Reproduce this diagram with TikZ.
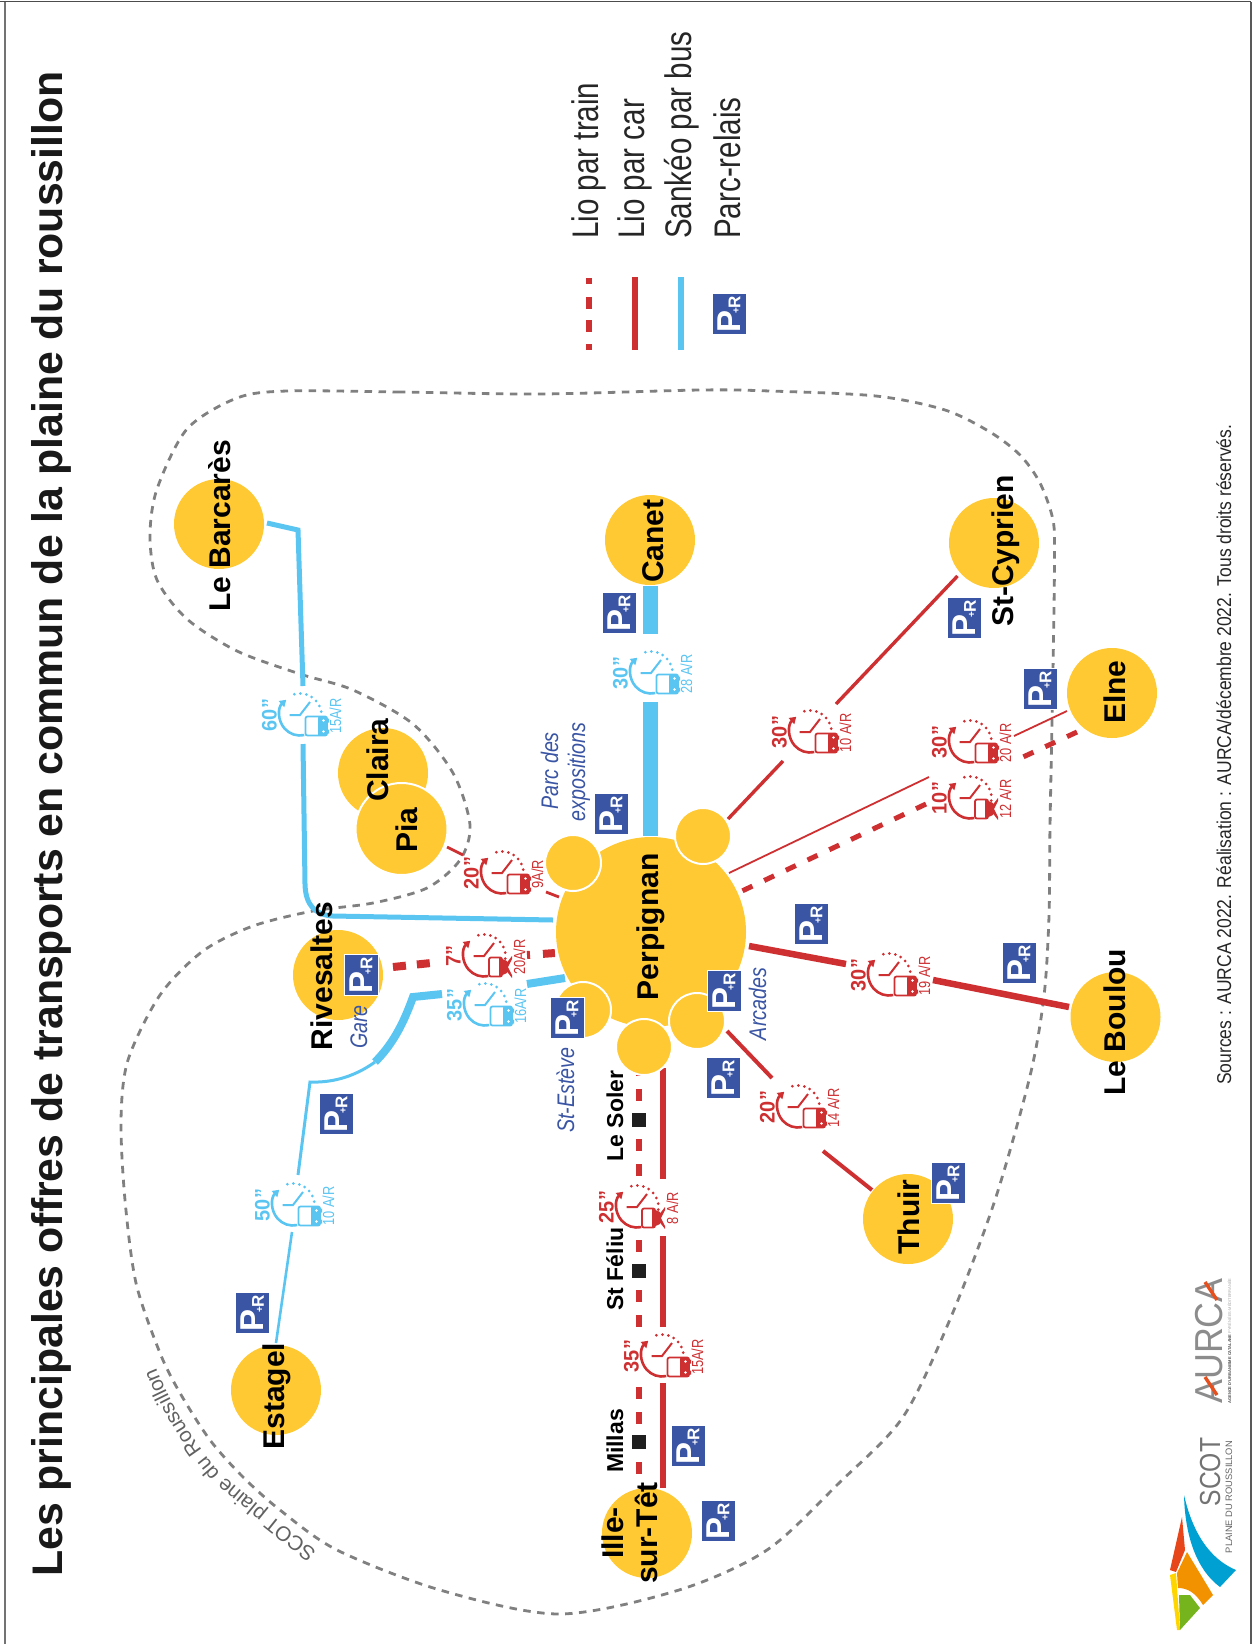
\documentclass[tikz,border=0pt]{standalone}
\usepackage{fontspec}
\usepackage{graphicx}
\setmainfont{Liberation Sans}
\usetikzlibrary{arrows.meta,decorations.text}
\definecolor{townY}{HTML}{FFC933}
\definecolor{lineR}{HTML}{CE3032}
\definecolor{lineB}{HTML}{5BC5F2}
\definecolor{signB}{HTML}{3A55A4}
\definecolor{frontierG}{HTML}{808080}
\newcommand{\pxs}[1]{\fontsize{#1}{#1}\selectfont}
\tikzset{
 x=1pt,y=-1pt,
 town/.style={circle,fill=townY,minimum size=90pt,inner sep=0pt},
 hub/.style={circle,fill=townY,minimum size=190pt,inner sep=0pt},
 minihub/.style={circle,fill=townY,draw=white,line width=2pt,minimum size=56pt,inner sep=0pt},
 townlabel/.style={rotate=90,anchor=base,inner sep=0pt,text=black,font=\bfseries\pxs{30}},
 stoplabel/.style={rotate=90,anchor=base,inner sep=0pt,text=black,font=\bfseries\pxs{23}},
 hublabel/.style={rotate=90,anchor=base,inner sep=0pt,text=signB,font=\itshape\pxs{24}},
 legendlabel/.style={rotate=90,anchor=base west,inner sep=0pt,text=black!85,font=\pxs{37}},
 prbox/.style={rotate=90,rectangle,fill=signB,draw=white,line width=0.9pt,minimum width=41pt,minimum height=34pt,inner sep=0pt,text=white,font=\bfseries},
 stopmark/.style={rectangle,fill=black!88,minimum size=14pt,inner sep=0pt},
 frontier/.style={draw=frontierG,line width=2.8pt,dash pattern=on 7.5pt off 6.5pt},
 car/.style={draw=lineR,line cap=butt},
 bus/.style={draw=lineB,line cap=butt},
 train/.style={draw=lineR,line cap=butt,dash pattern=on 12pt off 13pt},
}
\newcommand{\prsign}[3]{\node[prbox] (#1) at (#2,#3) {\pxs{33}P\kern-3pt\raisebox{1pt}{\pxs{10}+}\kern-1pt\pxs{17}R};}
% #1 name, #2 x, #3 y, #4 colour, #5 time, #6 frequency, #7 1=bus 0=train
\newcommand{\clockicon}[7]{%
 \coordinate (#1) at (#2,#3);
 \begin{scope}[shift={(#2,#3)}]
  \draw[#4,line width=2.6pt,{Triangle[length=6.5pt,width=8pt]}-] (132:20.5pt) arc[start angle=132,end angle=282,radius=20.5pt];
  \draw[#4,line width=3pt,line cap=round,dash pattern=on 0pt off 6pt] (105:21.5pt) arc[start angle=105,end angle=-18,radius=21.5pt];
  \draw[#4,line width=2pt] (-10.5,0) -- (0,0) -- (10,-13);
  \ifnum#7=1
   \draw[#4,fill=white,line width=1.8pt,rounded corners=2pt] (5.5,1.5) rectangle (27,20.5);
   \fill[#4,rounded corners=1pt] (18,1.5) rectangle (27,20.5);
   \fill[#4] (27,3.5) rectangle (29,7.5) (27,14.5) rectangle (29,18.5);
   \fill[white] (23.5,5.5) circle[radius=1.3pt] (23.5,16.5) circle[radius=1.3pt];
  \else
   \draw[#4,fill=white,line width=1.8pt,rounded corners=2pt] (5,1.5) rectangle (18,20.5);
   \fill[#4] (15,1.5) -- (23,5) -- (23,17) -- (15,20.5) -- cycle;
   \fill[#4] (21,9) -- (28,0) -- (28,3) -- (24,11) -- (28,19) -- (28,22) -- (21,13) -- cycle;
  \fi
  \node[rotate=90,anchor=base,inner sep=0pt,text=#4,font=\bfseries\pxs{21}] (#1t) at (-23.5,0) {\scalebox{.95}[1]{#5”}};
  \node[rotate=90,anchor=base,inner sep=0pt,text=#4,font=\pxs{16}] (#1f) at (41,1) {\scalebox{.8}[1]{#6}};
 \end{scope}}
\begin{document}
\begin{tikzpicture}
\useasboundingbox (0,0) rectangle (1253,1644);
% page edge
\draw[black!70,line width=1.5pt] (0,1.5) -- (1251,1.5);
\draw[black!55,line width=1.5pt] (5,1.5) -- (5,1644);
\draw[black!65,line width=1.6pt] (1251,1.5) -- (1251,1644);
% title
\node[rotate=90,anchor=base west,inner sep=0pt,font=\bfseries\pxs{42.8},text=black!90] (title) at (62,1577) {Les principales offres de transports en commun de la plaine du roussillon};
% SCOT perimeter
\draw[frontier] plot[smooth cycle,tension=.5] coordinates {(540,394)(400,392)(287,391)(237,398)(187,429)(157,489)(150,536)(157,580)(187,619)(237,651)(300,674)(353,690)(413,724)(453,773)(470,825)(460,860)(427,888)(373,903)(313,911)(253,926)(203,951)(160,995)(128,1060)(121,1120)(125,1200)(136,1283)(160,1353)(180,1393)(210,1440)(243,1477)(280,1510)(337,1550)(440,1590)(559,1614)(679,1590)(767,1550)(839,1483)(903,1417)(951,1317)(995,1200)(1030,1076)(1044,996)(1049,916)(1050,826)(1053,670)(1054.5,559)(1053,520)(1040,483)(1020,455)(990,432)(945,410)(876,396)(770,391)(700,390)};
\path[decorate,decoration={text along path,text={|\pxs{20.7}\color{black!62}|SCOT plaine du Roussillon},text align={left}}] (317,1551) .. controls (280,1523) and (240,1490) .. (220,1473) .. controls (195,1445) and (170,1405) .. (153,1360);
% coordinates for connector ends
\coordinate (pA) at (447,847); \coordinate (pB) at (463,855); \coordinate (pC) at (546,892); \coordinate (pD) at (559,897);
\coordinate (rA) at (393,967); \coordinate (rB) at (431,963); \coordinate (rC) at (527,955); \coordinate (rD) at (555,953);
\coordinate (sA) at (527,984); \coordinate (sB) at (565,978); \coordinate (sC) at (442,994); \coordinate (sD) at (413,997); \coordinate (sE) at (375,1062); \coordinate (sF) at (310,1082); \coordinate (sG) at (298,1175); \coordinate (sH) at (292,1232); \coordinate (sI) at (276,1343);
\coordinate (bA) at (267,523); \coordinate (bB) at (298,530); \coordinate (bC) at (303,686); \coordinate (bD) at (303,744); \coordinate (bE) at (305,884); \coordinate (bF) at (333,916); \coordinate (bG) at (553,920);
\coordinate (cA) at (650,586); \coordinate (cB) at (650,634); \coordinate (cC) at (650,702); \coordinate (cD) at (650,836);
\coordinate (yA) at (957.5,576); \coordinate (yB) at (836,704); \coordinate (yC) at (783,761); \coordinate (yD) at (728,819);
\coordinate (eA) at (1067,711); \coordinate (eB) at (1014,736); \coordinate (eC) at (929,777); \coordinate (eD) at (729,873);
\coordinate (fA) at (1077,732); \coordinate (fB) at (1023,757); \coordinate (fC) at (926,804); \coordinate (fD) at (742,891);
\coordinate (lA) at (749,946); \coordinate (lB) at (846,964); \coordinate (lC) at (933,980); \coordinate (lD) at (1069,1007);
\coordinate (tA) at (727,1031); \coordinate (tB) at (772,1078); \coordinate (tC) at (823,1151); \coordinate (tD) at (872,1190);
\coordinate (iA) at (663,1068); \coordinate (iB) at (663,1179); \coordinate (iC) at (663,1236); \coordinate (iD) at (663,1327); \coordinate (iE) at (663,1383); \coordinate (iF) at (663,1488);
\coordinate (jA) at (639,1064); \coordinate (jB) at (639,1177); \coordinate (jC) at (639,1240); \coordinate (jD) at (639,1327); \coordinate (jE) at (639,1387); \coordinate (jF) at (639,1474);
% connectors
\draw[bus,line width=5pt,line join=miter] (bA) -- (bB) -- (bC);
\draw[bus,line width=5pt] (bD) -- (bE) .. controls (305.5,905) and (315,915) .. (bF) -- (bG);
\draw[bus,line width=15pt] (cA) -- (cB) (cC) -- (cD);
\draw[bus,line width=8pt] (sA) -- (sB);
\draw[bus,line width=8pt] (sC) -- (sD) .. controls (403,1025) and (392,1045) .. (sE);
\draw[bus,line width=3pt] (sE) .. controls (357,1075) and (335,1083) .. (sF) -- (sG);
\draw[bus,line width=2.6pt] (sH) -- (sI);
\draw[car,line width=2.8pt] (pA) -- (pB) (pC) -- (pD);
\draw[train,line width=8pt,dash pattern=on 13pt off 11pt] (rA) -- (rB);
\draw[train,line width=8pt,dash pattern=on 3pt off 13pt on 12pt off 20pt] (rC) -- (rD);
\draw[car,line width=3.4pt] (yA) -- (yB) (yC) -- (yD);
\draw[car,line width=1.8pt] (eA) -- (eB) (eC) -- (eD);
\draw[train,line width=5pt,dash pattern=on 11pt off 13pt] (fA) -- (fB);
\draw[train,line width=5pt,dash pattern=on 11pt off 13pt] (fC) -- (fD);
\draw[car,line width=6.5pt] (lA) -- (lB) (lC) -- (lD);
\draw[car,line width=4pt] (tA) -- (tB) (tC) -- (tD);
\draw[car,line width=6.5pt] (iA) -- (iB) (iC) -- (iD) (iE) -- (iF);
\draw[train,line width=6pt] (jA) -- (jB);
\draw[train,line width=6pt] (jC) -- (jD);
\draw[train,line width=6pt] (jE) -- (jF);
% stations
\node[stopmark] (mSoler) at (639,1120) {};
\node[stopmark] (mFeliu) at (639,1271) {};
\node[stopmark] (mMillas) at (639,1442) {};
% towns
\node[town] (barcares) at (219,524) {};
\node[town] (canet) at (650,540) {};
\node[town] (cyprien) at (994,543) {};
\node[town] (elne) at (1112,693) {};
\node[town] (claira) at (383,773) {};
\node[town,draw=white,line width=2pt,minimum size=92pt] (pia) at (401.5,829) {};
\node[town] (rivesaltes) at (338,975) {};
\node[town] (boulou) at (1115.5,1017) {};
\node[town] (thuir) at (908,1219) {};
\node[town] (estagel) at (276,1390) {};
\node[town] (ille) at (647,1533) {};
\node[hub] (perpignan) at (651,932) {};
\node[minihub] (hubParc) at (573,863) {};
\node[minihub] (hubNE) at (703,836) {};
\node[minihub] (hubEsteve) at (583,1010) {};
\node[minihub] (hubSud) at (644,1047) {};
\node[minihub] (hubArcades) at (697,1021) {};
% town labels
\node[townlabel] (lBarcares) at (230,526) {Le Barcarès};
\node[townlabel] (lCanet) at (663,541) {Canet};
\node[townlabel] (lCyprien) at (1013,551) {St-Cyprien};
\node[townlabel] (lElne) at (1125,692) {Elne};
\node[townlabel] (lBoulou) at (1125,1022) {Le Boulou};
\node[townlabel] (lPerp) at (658,927) {Perpignan};
\node[townlabel] (lClaira) at (388,760) {Claira};
\node[townlabel] (lPia) at (417,830) {Pia};
\node[townlabel] (lRiv) at (332,976) {Rivesaltes};
\node[townlabel] (lEstagel) at (284,1396) {Estagel};
\node[townlabel] (lThuir) at (919,1217) {Thuir};
\node[townlabel] (lIlleA) at (623,1533) {Ille-};
\node[townlabel] (lIlleB) at (657,1533) {sur-Têt};
\node[stoplabel] (lSoler) at (623,1116) {Le Soler};
\node[stoplabel] (lFeliu) at (623,1269) {St Féliu};
\node[stoplabel] (lMillas) at (623,1441) {Millas};
% park names
\node[hublabel] (nParc) at (558,771) {\scalebox{.82}[1]{Parc des}};
\node[hublabel] (nExpo) at (585,772) {\scalebox{.82}[1]{expositions}};
\node[hublabel] (nArc) at (766,1004) {\scalebox{.82}[1]{Arcades}};
\node[hublabel] (nEst) at (574,1090) {\scalebox{.82}[1]{St-Estève}};
\node[hublabel] (nGare) at (367,1027) {\scalebox{.82}[1]{Gare}};
% clock icons
\clockicon{k1}{502}{873}{lineR}{20}{9A/R}{1}
\clockicon{k2}{484}{956}{lineR}{7}{20A/R}{0}
\clockicon{k3}{485}{1005}{lineB}{35}{16A/R}{1}
\clockicon{k4}{300}{715}{lineB}{60}{15A/R}{1}
\clockicon{k5}{293}{1205}{lineB}{50}{10 A/R}{1}
\clockicon{k6}{651}{673}{lineB}{30}{28 A/R}{1}
\clockicon{k7}{810}{732}{lineR}{30}{10 A/R}{1}
\clockicon{k8}{970}{742}{lineR}{30}{20 A/R}{1}
\clockicon{k9}{970}{798}{lineR}{10}{12 A/R}{0}
\clockicon{k10}{889}{975}{lineR}{30}{19 A/R}{1}
\clockicon{k11}{798}{1107}{lineR}{20}{14 A/R}{1}
\clockicon{k12}{637}{1207}{lineR}{25}{8 A/R}{0}
\clockicon{k13}{662}{1356}{lineR}{35}{15A/R}{1}
% P+R signs
\prsign{prParc}{611}{814}
\prsign{prEst}{567}{1018}
\prsign{prArc}{724}{991}
\prsign{prSud}{723}{1078}
\prsign{prBoulA}{811}{924}
\prsign{prBoulB}{1019}{963}
\prsign{prCyp}{964.5}{618}
\prsign{prElne}{1040}{689}
\prsign{prRiv}{361}{975}
\prsign{prGare}{336}{1114}
\prsign{prCanet}{619}{613}
\prsign{prThuir}{948}{1183}
\prsign{prEst2}{252.5}{1313}
\prsign{prIlleA}{688}{1446}
\prsign{prIlleB}{718}{1521}
% legend
\coordinate (ltA) at (589,350); \coordinate (ltB) at (589,277);
\coordinate (lcA) at (635,350); \coordinate (lcB) at (635,277);
\coordinate (lbA) at (681,350); \coordinate (lbB) at (681,277);
\draw[train,line width=6pt,dash pattern=on 6pt off 12pt on 12pt off 11pt on 12pt off 13pt on 6pt off 20pt] (ltA) -- (ltB);
\draw[car,line width=6pt] (lcA) -- (lcB);
\draw[bus,line width=6pt] (lbA) -- (lbB);
\prsign{prLeg}{729}{314}
\node[legendlabel] (leg1) at (598,239) {\scalebox{.8}[1]{Lio par train}};
\node[legendlabel] (leg2) at (644,239) {\scalebox{.8}[1]{Lio par car}};
\node[legendlabel] (leg3) at (691,239) {\scalebox{.8}[1]{Sankéo par bus}};
\node[legendlabel] (leg4) at (740,239) {\scalebox{.8}[1]{Parc-relais}};
% sources
\node[rotate=90,anchor=base west,inner sep=0pt,font=\pxs{20},text=black!85] (sources) at (1231,1085) {\scalebox{.875}[1]{Sources : AURCA 2022. Réalisation : AURCA/décembre 2022. Tous droits réservés.}};
% SCOT logo
\fill[fill={rgb,255:red,0;green,160;blue,210}] (1184,1495) .. controls (1195,1543) and (1217,1562) .. (1236,1570) -- (1220,1587) .. controls (1197,1570) and (1185,1537) .. cycle;
\fill[fill={rgb,255:red,230;green,70;blue,26}] (1182,1517) -- (1185,1550) -- (1176,1572) -- (1170,1570) -- cycle;
\fill[fill={rgb,255:red,243;green,146;blue,0}] (1187,1552) -- (1213,1595) -- (1203,1605) .. controls (1195,1592) and (1187,1588) .. (1178,1588) -- (1177,1573) -- cycle;
\fill[fill={rgb,255:red,255;green,213;blue,0}] (1170,1575) -- (1176,1573) -- (1180,1630) -- (1177,1630) -- cycle;
\fill[fill={rgb,255:red,118;green,180;blue,30}] (1179,1595) -- (1190,1595) -- (1200,1608) -- (1180,1630) -- cycle;
\node[rotate=90,anchor=base,inner sep=0pt,font=\pxs{29},text=black!55] (scot) at (1220,1472) {\scalebox{.85}[1]{SCOT}};
\node[rotate=90,anchor=base,inner sep=0pt,font=\pxs{8},text=black!60] (plaine) at (1232,1497) {\resizebox{112pt}{!}{PLAINE DU ROUSSILLON}};
% AURCA logo
\node[rotate=90,anchor=base,inner sep=0pt,font=\pxs{39},text=black!45] (aurca) at (1222,1341) {\scalebox{.92}[1]{AURCA}};
\draw[draw={rgb,255:red,230;green,80;blue,30},line width=3.4pt] (1205,1282) -- (1217,1300) (1205,1377) -- (1217,1395);
\node[rotate=90,anchor=base,inner sep=0pt,text=black!70] (aurcab) at (1231,1341) {\resizebox{125pt}{!}{\bfseries\pxs{5}AGENCE D’URBANISME CATALANE \mdseries\color{black!35}PYRÉNÉES-MÉDITERRANÉE}};
\end{tikzpicture}
\end{document}
